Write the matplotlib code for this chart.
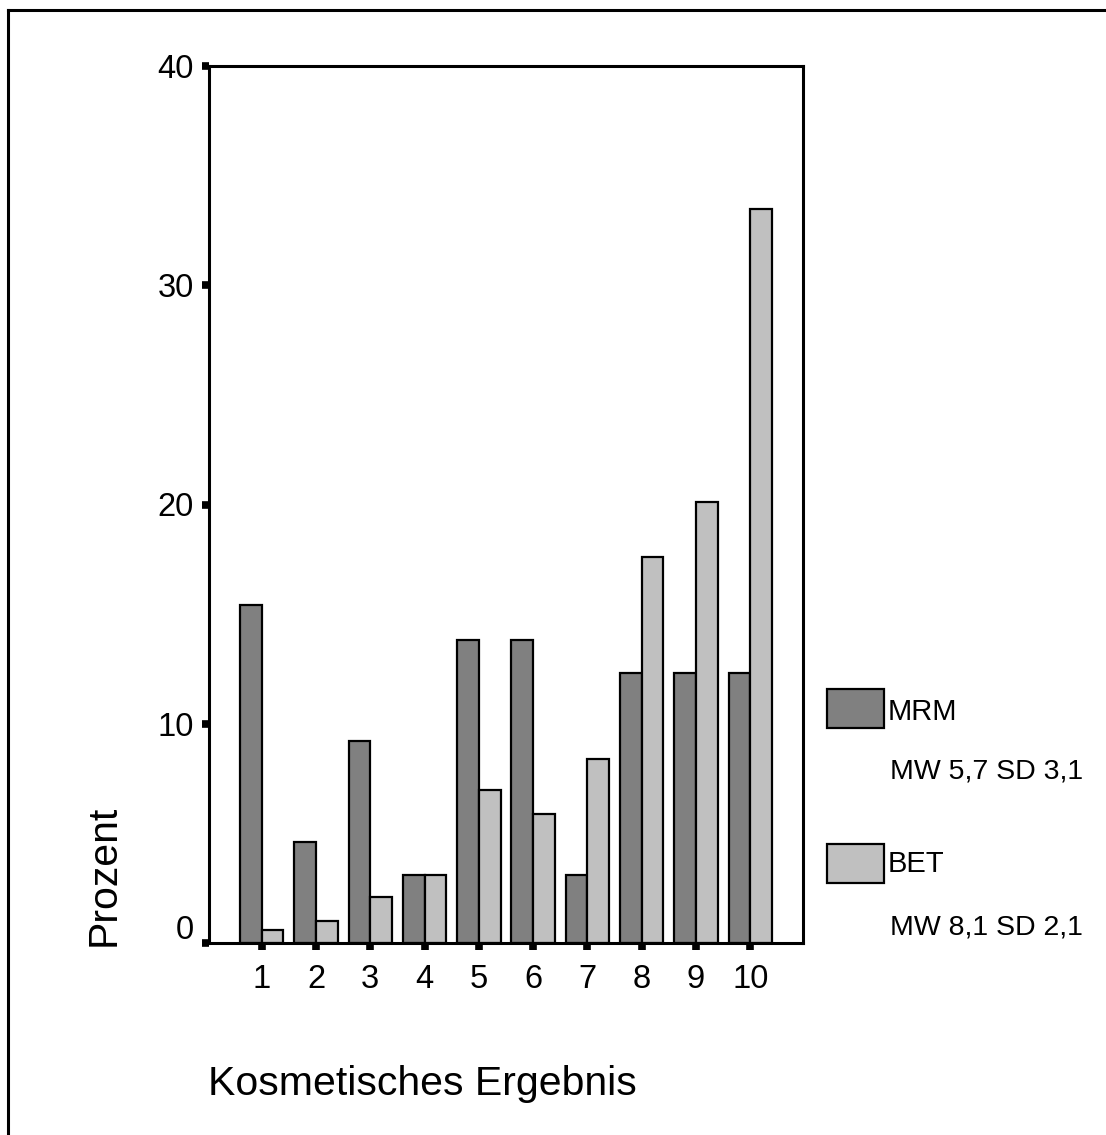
import matplotlib
matplotlib.use("Agg")
import matplotlib.pyplot as plt
from matplotlib.patches import Rectangle
from matplotlib.lines import Line2D
import matplotlib.transforms as mtransforms
import numpy as np

categories = [1, 2, 3, 4, 5, 6, 7, 8, 9, 10]
mrm_values = [15.4, 4.6, 9.2, 3.1, 13.8, 13.8, 3.1, 12.3, 12.3, 12.3]
bet_values = [0.6, 1.0, 2.1, 3.1, 7.0, 5.9, 8.4, 17.6, 20.1, 33.5]
series_names = ["MRM", "BET"]
series_stats = ["MW 5,7 SD 3,1", "MW 8,1 SD 2,1"]
yticks = [0, 10, 20, 30, 40]
xlabel = "Kosmetisches Ergebnis"
ylabel = "Prozent"

plt.rcParams['font.family'] = ['Liberation Sans', 'DejaVu Sans']

W, H = 1106, 1135
fig = plt.figure(figsize=(W / 100, H / 100), dpi=100)
fig.patch.set_facecolor('white')

def fx(px):
    return px / W

def fy(py):
    return 1 - py / H

ax = fig.add_axes([fx(209), fy(943), fx(803) - fx(209), fy(66) - fy(943)])

dark = '#808080'
light = '#c0c0c0'
x = np.array(categories, dtype=float)
bw = 0.4
ax.bar(x - bw / 2, mrm_values, width=bw, color=dark, edgecolor='black', linewidth=1.6, zorder=2)
ax.bar(x + bw / 2, bet_values, width=bw, color=light, edgecolor='black', linewidth=1.6, zorder=2)

ax.set_xlim(0.03, 10.97)
ax.set_ylim(0, 40)
ax.set_xticks(categories)
ax.set_xticklabels([str(c) for c in categories], fontsize=23.5)
ax.set_yticks(yticks)
ax.set_yticklabels([str(t) for t in yticks], fontsize=23.5)
ax.tick_params(axis='y', direction='out', length=5, width=5.5, pad=6, color='black')
ax.tick_params(axis='x', direction='out', length=5, width=5.5, pad=10, color='black')
for sp in ax.spines.values():
    sp.set_linewidth(2.2)
    sp.set_color('black')

# shift the "0" label upward like the original
lab0 = ax.get_yticklabels()[0]
lab0.set_transform(lab0.get_transform() + mtransforms.ScaledTranslation(0, 16 / 100, fig.dpi_scale_trans))

# axis titles
fig.text(fx(104), fy(875), ylabel, rotation=90, ha='center', va='center', fontsize=29.5)
fig.text(fx(208), fy(1095), xlabel, ha='left', va='baseline', fontsize=29.5)

# legend
colors = [dark, light]
patch_tops = [689, 844]
text_centers = [712, 864]
stat_centers = [772, 927]
for i in range(2):
    top = patch_tops[i]
    rect = Rectangle((fx(826.5), fy(top + 39)), fx(884) - fx(826.5), fy(top) - fy(top + 39),
                     transform=fig.transFigure, facecolor=colors[i], edgecolor='black', linewidth=1.6)
    fig.patches.append(rect)
    fig.text(fx(888), fy(text_centers[i]), series_names[i], ha='left', va='center', fontsize=21)
    fig.text(fx(890), fy(stat_centers[i]), series_stats[i], ha='left', va='center', fontsize=20.5)

# outer frame (top and left visible)
fig.lines.append(Line2D([fx(8), 1.0], [fy(10), fy(10)], transform=fig.transFigure, color='black', linewidth=2.2))
fig.lines.append(Line2D([fx(8), fx(8)], [fy(10), 0.0], transform=fig.transFigure, color='black', linewidth=2.2))

fig.savefig('out.png', dpi=100, facecolor='white')
